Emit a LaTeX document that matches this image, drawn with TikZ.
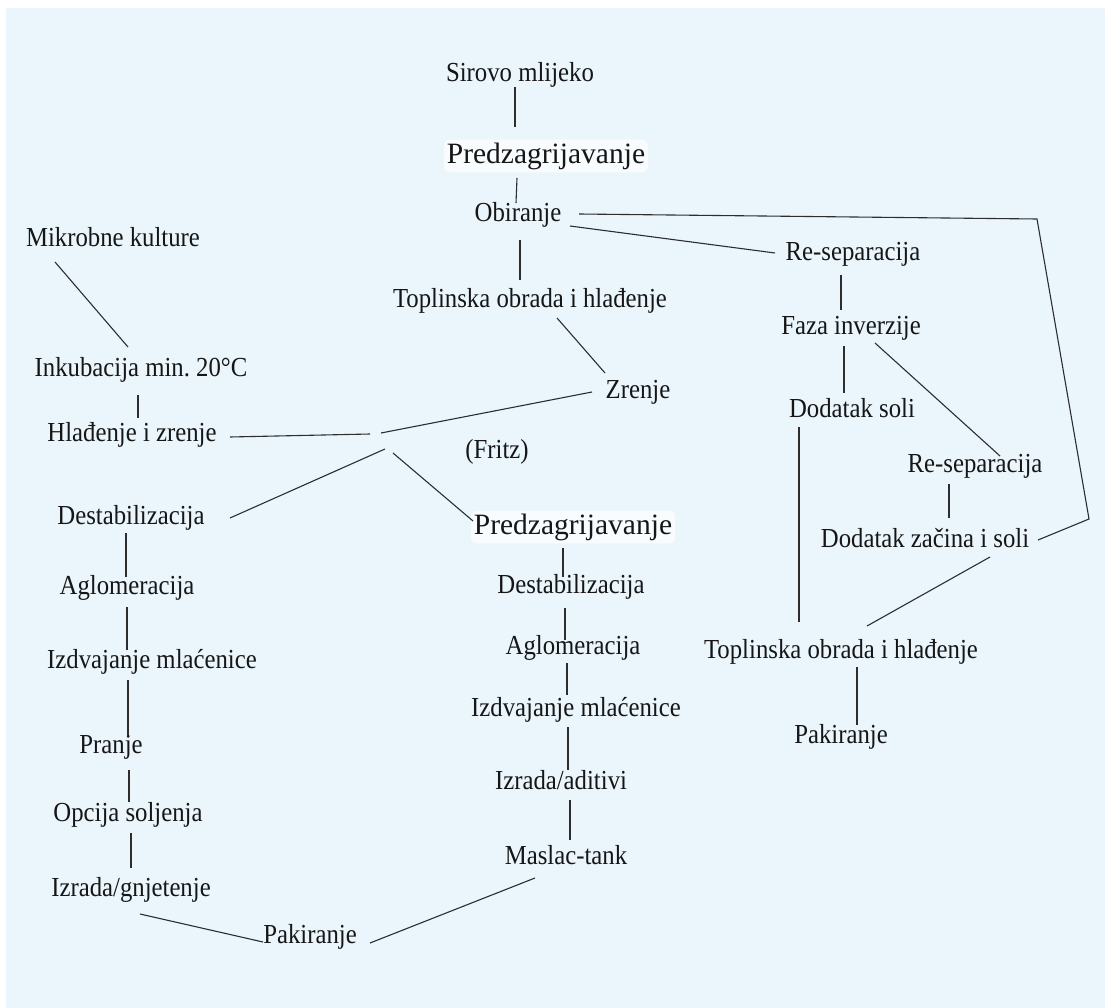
\documentclass[tikz,border=0pt]{standalone}
\usepackage{fontspec}
\setmainfont{Liberation Serif}
\newfontfamily\lblfont[FakeStretch=0.9]{Liberation Serif}
\usetikzlibrary{calc}
\definecolor{bgblue}{RGB}{234,246,252}
\definecolor{ink}{RGB}{22,22,22}
\definecolor{wire}{RGB}{45,45,45}
\tikzset{
  lbl/.style={inner sep=0pt, text=ink, font=\lblfont\fontsize{27.5}{32}\selectfont},
  biglbl/.style={inner sep=3pt, text=ink, fill=white, fill opacity=0.75, text opacity=1, rounded corners=6pt, font=\fontsize{29.5}{34}\selectfont},
  wirestyle/.style={draw=wire, line width=1.1pt}
}
\begin{document}
\begin{tikzpicture}[x=1pt,y=-1pt]
\useasboundingbox (0,0) rectangle (1105,1008);
\fill[white] (0,0) rectangle (1105,1008);
\fill[bgblue] (6,8) rectangle (1105,1008);

% centre column
\node[lbl] (sirovo) at (520,75) {Sirovo mlijeko};
\node[biglbl] (pred1) at (546,156) {Predzagrijavanje};
\node[lbl] (obir) at (518,215) {Obiranje};
\node[lbl] (topl1) at (530,301) {Toplinska obrada i hlađenje};
\node[lbl] (zrenje) at (638,392) {Zrenje};
\node[lbl] (fritz) at (497,452) {(Fritz)};
\node[biglbl] (pred2) at (573,527) {Predzagrijavanje};
\node[lbl] (dest2) at (571,587) {Destabilizacija};
\node[lbl] (aglo2) at (573,648) {Aglomeracija};
\node[lbl] (izdv2) at (576,710) {Izdvajanje mlaćenice};
\node[lbl] (izad) at (561,780) {Izrada/aditivi};
\node[lbl] (masl) at (566,855) {Maslac-tank};
\node[lbl] (pak1) at (310,937) {Pakiranje};

% left column
\node[lbl] (mikro) at (113,237) {Mikrobne kulture};
\node[lbl] (inkub) at (141,370) {Inkubacija min.\ 20°C};
\node[lbl] (hlad) at (132,435) {Hlađenje i zrenje};
\node[lbl] (dest1) at (131,518) {Destabilizacija};
\node[lbl] (aglo1) at (127,588) {Aglomeracija};
\node[lbl] (izdv1) at (152,662) {Izdvajanje mlaćenice};
\node[lbl] (pranje) at (111,747) {Pranje};
\node[lbl] (opc) at (128,815) {Opcija soljenja};
\node[lbl] (izgn) at (131,890) {Izrada/gnjetenje};

% right column
\node[lbl] (resep1) at (853,254) {Re-separacija};
\node[lbl] (faza) at (851,328) {Faza inverzije};
\node[lbl] (dodsol) at (852,408) {Dodatak soli};
\node[lbl] (resep2) at (975,466) {Re-separacija};
\node[lbl] (dodzac) at (925,538) {Dodatak začina i soli};
\node[lbl] (topl2) at (841,652) {Toplinska obrada i hlađenje};
\node[lbl] (pak2) at (841,737) {Pakiranje};

% junction and corner points
\coordinate (hubA) at (370,434);
\coordinate (hubB) at (381,433);
\coordinate (hubC) at (385,449);
\coordinate (hubD) at (393,453);
\coordinate (cornerA) at (1037,219);
\coordinate (cornerB) at (1089,519);

% connectors
\draw[wirestyle] ($(sirovo)+(-5,12)$) -- ($(pred1)+(-31,-29)$);
\draw[wirestyle] ($(pred1)+(-29,22)$) -- ($(obir)+(-2,-12)$);
\draw[wirestyle] ($(obir)+(2,25)$) -- ($(topl1)+(-10,-21)$);
\draw[wirestyle] ($(obir)+(52,11)$) -- ($(resep1)+(-78,-1)$);
\draw[wirestyle] ($(obir)+(61,-1)$) -- (cornerA) -- (cornerB) -- ($(dodzac)+(113,2)$);
\draw[wirestyle] ($(resep1)+(-12,21)$) -- ($(faza)+(-10,-18)$);
\draw[wirestyle] ($(faza)+(-7,18)$) -- ($(dodsol)+(-8,-15)$);
\draw[wirestyle] ($(faza)+(24,15)$) -- ($(resep2)+(25,-10)$);
\draw[wirestyle] ($(dodsol)+(-53,19)$) -- ($(topl2)+(-42,-30)$);
\draw[wirestyle] ($(resep2)+(-26,18)$) -- ($(dodzac)+(24,-20)$);
\draw[wirestyle] ($(dodzac)+(65,19)$) -- ($(topl2)+(26,-26)$);
\draw[wirestyle] ($(topl2)+(16,15)$) -- ($(pak2)+(16,-12)$);

\draw[wirestyle] ($(topl1)+(27,17)$) -- ($(zrenje)+(-33,-19)$);
\draw[wirestyle] ($(zrenje)+(-46,0)$) -- (hubB);
\draw[wirestyle] ($(hlad)+(98,2)$) -- (hubA);
\draw[wirestyle] ($(dest1)+(99,0)$) -- (hubC);
\draw[wirestyle] (hubD) -- ($(pred2)+(-100,-6)$);

\draw[wirestyle] ($(mikro)+(-58,25)$) -- ($(inkub)+(-13,-23)$);
\draw[wirestyle] ($(inkub)+(-3,25)$) -- ($(hlad)+(6,-17)$);
\draw[wirestyle] ($(dest1)+(-5,15)$) -- ($(aglo1)+(-1,-11)$);
\draw[wirestyle] ($(aglo1)+(0,19)$) -- ($(izdv1)+(-25,-12)$);
\draw[wirestyle] ($(izdv1)+(-24,18)$) -- ($(pranje)+(17,-12)$);
\draw[wirestyle] ($(pranje)+(18,23)$) -- ($(opc)+(1,-13)$);
\draw[wirestyle] ($(opc)+(3,18)$) -- ($(izgn)+(0,-22)$);
\draw[wirestyle] ($(izgn)+(9,24)$) -- ($(pak1)+(-47,5)$);
\draw[wirestyle] ($(pak1)+(60,6)$) -- ($(masl)+(-31,23)$);

\draw[wirestyle] ($(pred2)+(-10,21)$) -- ($(dest2)+(-8,-10)$);
\draw[wirestyle] ($(dest2)+(-6,21)$) -- ($(aglo2)+(-8,-8)$);
\draw[wirestyle] ($(aglo2)+(-6,15)$) -- ($(izdv2)+(-9,-15)$);
\draw[wirestyle] ($(izdv2)+(-8,17)$) -- ($(izad)+(7,-10)$);
\draw[wirestyle] ($(izad)+(9,20)$) -- ($(masl)+(4,-15)$);
\end{tikzpicture}
\end{document}
